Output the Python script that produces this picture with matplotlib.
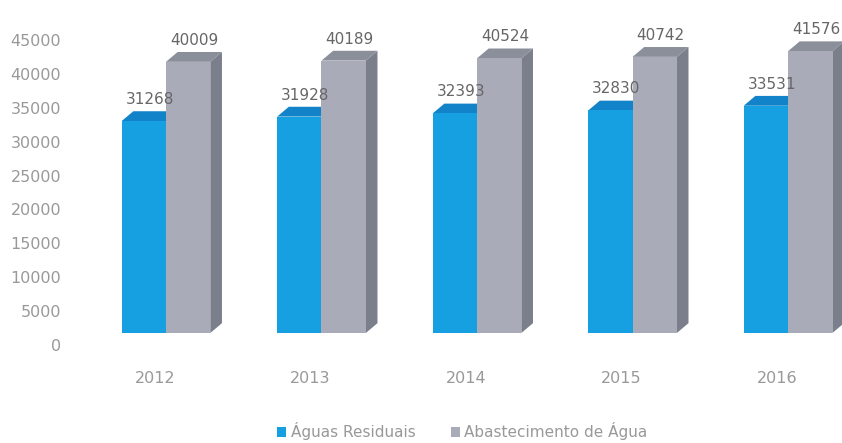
import matplotlib.pyplot as plt
from matplotlib.patches import Polygon, Rectangle, Patch
from matplotlib.transforms import ScaledTranslation

plt.rcParams['font.family'] = ['DejaVu Sans']

# dados
anos = ['2012', '2013', '2014', '2015', '2016']
aguas_residuais = [31268, 31928, 32393, 32830, 33531]
abastecimento = [40009, 40189, 40524, 40742, 41576]

# cores (frente, topo, lado)
azul = ('#16a0e2', '#1283c9', '#0f6fae')
cinza = ('#a9abb8', '#8b8f9a', '#7a7f8b')

largura = 0.285   # largura de cada barra
dx = 0.075        # profundidade horizontal
dy = 1450         # profundidade vertical

fig = plt.figure(figsize=(8.42, 4.43), dpi=100)
ax = fig.add_axes([0.1188, 0.2483, 0.8812, 0.6885])
ax.set_xlim(-0.424, 4.347)
ax.set_ylim(0, 45000)


def barra3d(x0, h, cores):
    x1 = x0 + largura
    frente = Rectangle((x0, 0), largura, h, fc=cores[0], ec='none', zorder=2)
    topo = Polygon([(x0, h), (x0 + dx, h + dy), (x1 + dx, h + dy), (x1, h)],
                   closed=True, fc=cores[1], ec='none', zorder=2)
    lado = Polygon([(x1, 0), (x1 + dx, dy), (x1 + dx, h + dy), (x1, h)],
                   closed=True, fc=cores[2], ec='none', zorder=2)
    for p in (lado, topo, frente):
        ax.add_patch(p)
    ax.annotate(f'{h}', xy=(x0 + largura / 2 + dx / 2, h + dy), xytext=(0, 3),
                textcoords='offset points', ha='center', va='bottom',
                fontsize=11, color='#666666', zorder=5, annotation_clip=False)


for i in range(len(anos)):
    barra3d(i - largura, aguas_residuais[i], azul)
    barra3d(i, abastecimento[i], cinza)

# eixos
for s in ax.spines.values():
    s.set_visible(False)
ax.set_yticks(range(0, 45001, 5000))
ax.tick_params(axis='y', length=0, pad=28, labelsize=11.5, labelcolor='#999999')
ax.set_xticks([i - 0.07 for i in range(len(anos))])
ax.set_xticklabels(anos)
ax.tick_params(axis='x', length=0, pad=27, labelsize=11.5, labelcolor='#999999')

# rótulos do eixo y ligeiramente abaixo
desloc = ScaledTranslation(0, -12 / 100, fig.dpi_scale_trans)
for lbl in ax.get_yticklabels():
    lbl.set_transform(lbl.get_transform() + desloc)

# legenda
handles = [Patch(fc=azul[0], ec='none'), Patch(fc=cinza[0], ec='none')]
fig.legend(handles, ['Águas Residuais', 'Abastecimento de Água'], ncol=2,
           loc='center', bbox_to_anchor=(0.549, 0.026), frameon=False,
           fontsize=11, labelcolor='#999999', handlelength=0.6, handleheight=0.6,
           handletextpad=0.3, columnspacing=2.3)

fig.savefig('out.png', dpi=100, facecolor='white')
